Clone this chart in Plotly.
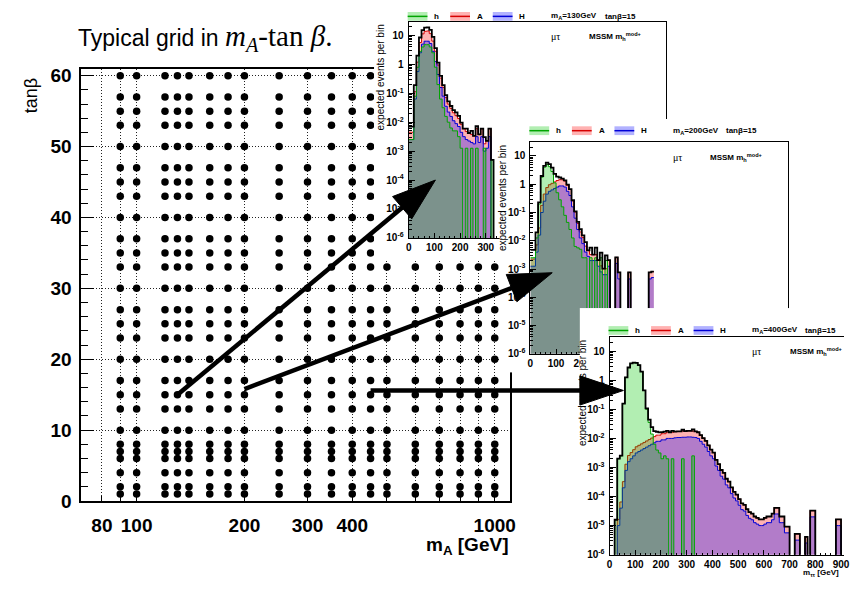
import math
import plotly.graph_objects as go

W, H = 850, 590

# ---------------- main grid data ----------------
mA_grid = [90, 100, 120, 130, 140, 160, 180, 200, 250, 300, 350, 400, 450, 500, 600, 700, 800, 900, 1000]
tanb_grid = [1, 2, 4, 6, 7, 8, 10, 13, 15, 17, 20, 23, 25, 27, 30, 33, 35, 37, 40, 43, 45, 47, 50, 53, 55, 57, 60]
x_tick_vals = [80, 100, 200, 300, 400, 1000]
x_tick_text = ["80", "100", "200", "300", "400", "1000"]
x_minor_vals = [90, 500, 600, 700, 800, 900]
y_tick_vals = [0, 10, 20, 30, 40, 50, 60]

# ---------------- inset histogram data (log10 of expected events per 10 GeV bin) ----------------
EMPTY = -9  # empty bin
BIN = 10
hist_x_ticks = [0, 100, 200, 300, 400, 500, 600, 700, 800, 900, 1000]
hist_y_ticks = [1e-6, 1e-5, 1e-4, 1e-3, 1e-2, 1e-1, 1, 10]
hist_y_text = ["10<sup>-6</sup>", "10<sup>-5</sup>", "10<sup>-4</sup>", "10<sup>-3</sup>",
               "10<sup>-2</sup>", "10<sup>-1</sup>", "1", "10"]

# m_A = 130 GeV
h_130 = [-2.6, -2.6, -1.1, -0.1, 0.45, 0.6, 0.68, 0.68, 0.6, 0.4,
         -0.1, -0.7, -1.2, -1.5, -1.8, -2.0, -2.2, -2.3, -2.3, -2.5,
         -2.9, EMPTY, -2.9, EMPTY, -2.9, EMPTY, -2.9, EMPTY, EMPTY, -2.9,
         EMPTY, EMPTY, -3.3, EMPTY, EMPTY]
H_130 = [-2.6, -2.6, -1.2, -0.25, 0.4, 0.7, 0.8, 0.8, 0.72, 0.45,
         0.1, -0.35, -0.8, -1.1, -1.45, -1.65, -1.8, -1.95, -2.05, -2.15,
         -2.35, -2.5, -2.6, -2.65, -2.7, -2.75, -2.5, -2.7, -2.5, -3.0,
         -2.9, -2.5, EMPTY, EMPTY, EMPTY]
A_130 = [-2.7, -2.7, -1.3, -0.2, 0.5, 0.8, 0.88, 0.9, 0.8, 0.55,
         0.2, -0.3, -0.75, -1.1, -1.45, -1.7, -1.85, -2.0, -2.1, -2.2,
         -2.4, -2.55, -2.65, -2.7, -2.75, -2.8, -2.55, -2.75, -2.55, -3.1,
         -3.0, -2.55, EMPTY, EMPTY, EMPTY]

# m_A = 200 GeV
h_200 = [-2.6, -2.6, -1.9, -0.7, 0.25, 0.6, 0.7, 0.62, 0.45, 0.05,
         -0.3, -0.55, -0.8, -1.1, -1.35, -1.6, -1.9, -2.2, -2.25, -2.3,
         -2.6, -2.6, EMPTY, -2.6, EMPTY, -2.6, EMPTY, -2.6, EMPTY, -2.7,
         EMPTY, EMPTY, EMPTY, EMPTY, EMPTY, EMPTY, EMPTY, EMPTY, EMPTY, EMPTY,
         EMPTY, EMPTY, EMPTY, EMPTY, EMPTY, EMPTY, EMPTY, EMPTY]
H_200 = [-2.9, -2.9, -2.4, -1.8, -1.0, -0.6, -0.35, -0.25, -0.2, -0.15,
         -0.1, -0.06, -0.06, -0.1, -0.25, -0.4, -0.8, -1.2, -1.6, -1.9,
         -2.1, -2.4, -2.55, -2.7, -2.7, -2.7, -2.9, -3.1, -3.2, -3.2,
         -2.9, EMPTY, EMPTY, -2.8, -3.35, EMPTY, EMPTY, EMPTY, -3.35, EMPTY,
         EMPTY, EMPTY, EMPTY, EMPTY, EMPTY, EMPTY, -3.35, -3.3]
A_200 = [-3.0, -3.0, -2.5, -1.9, -1.1, -0.7, -0.5, -0.4, -0.35, -0.3,
         -0.25, -0.24, -0.25, -0.3, -0.45, -0.6, -1.0, -1.4, -1.8, -2.1,
         -2.3, -2.6, -2.75, -2.9, -2.9, -2.9, -3.1, -3.3, -3.4, -3.4,
         -3.1, EMPTY, EMPTY, -3.0, -3.5, EMPTY, EMPTY, EMPTY, -3.5, EMPTY,
         EMPTY, EMPTY, EMPTY, EMPTY, EMPTY, EMPTY, -3.5, -3.5]

# m_A = 400 GeV
h_400 = [EMPTY, EMPTY, -4.8, -2.7, -2.6, -0.8, 0.1, 0.44, 0.58, 0.61,
         0.6, 0.52, 0.3, -0.35, -1.0, -1.45, -1.85, -2.2, -2.4, -2.5,
         -2.7, -2.6, -2.7, EMPTY, -2.7, EMPTY, EMPTY, EMPTY, -2.7, EMPTY,
         EMPTY, EMPTY, -2.6, EMPTY, EMPTY, EMPTY, EMPTY, EMPTY, EMPTY, EMPTY,
         EMPTY, EMPTY, EMPTY, EMPTY, EMPTY, EMPTY, EMPTY, EMPTY, EMPTY, EMPTY,
         EMPTY, EMPTY, EMPTY, EMPTY, EMPTY, EMPTY, EMPTY, EMPTY, EMPTY, EMPTY,
         EMPTY, EMPTY, EMPTY, EMPTY, EMPTY, EMPTY, EMPTY, EMPTY, EMPTY, EMPTY,
         EMPTY, EMPTY, EMPTY, EMPTY, EMPTY, EMPTY, EMPTY, EMPTY, EMPTY, EMPTY,
         EMPTY, EMPTY, EMPTY, EMPTY, EMPTY, EMPTY, EMPTY, EMPTY, EMPTY, EMPTY,
         EMPTY, EMPTY]
H_400 = [EMPTY, EMPTY, EMPTY, -5.0, -4.4, -3.7, -3.1, -2.8, -2.7, -2.6,
         -2.5, -2.45, -2.4, -2.35, -2.3, -2.25, -2.2, -2.15, -2.1, -2.1,
         -2.05, -2.05, -2.0, -2.0, -2.0, -1.98, -1.97, -1.97, -1.96, -1.96,
         -1.95, -1.95, -1.96, -1.97, -2.0, -2.1, -2.2, -2.3, -2.45, -2.6,
         -2.7, -2.95, -3.1, -3.3, -3.4, -3.6, -3.7, -3.9, -4.05, -4.15,
         -4.3, -4.45, -4.5, -4.65, -4.75, -4.8, -4.9, -4.95, -5.0, -5.0,
         -4.95, -4.9, -4.9, -4.8, -4.6, -4.6, -4.9, -4.9, -5.25, -5.25,
         EMPTY, EMPTY, -5.5, -5.5, EMPTY, EMPTY, -5.6, EMPTY, -4.7, -4.7,
         EMPTY, EMPTY, EMPTY, EMPTY, EMPTY, EMPTY, EMPTY, EMPTY, -5.0, -5.0,
         EMPTY, EMPTY]
A_400 = [EMPTY, EMPTY, EMPTY, -5.2, -4.6, -3.9, -3.3, -3.0, -2.9, -2.8,
         -2.7, -2.65, -2.6, -2.55, -2.5, -2.45, -2.4, -2.35, -2.3, -2.3,
         -2.25, -2.25, -2.2, -2.2, -2.2, -2.18, -2.17, -2.17, -2.16, -2.16,
         -2.15, -2.15, -2.16, -2.17, -2.2, -2.3, -2.4, -2.5, -2.65, -2.8,
         -2.9, -3.15, -3.3, -3.5, -3.6, -3.8, -3.9, -4.1, -4.25, -4.35,
         -4.5, -4.65, -4.7, -4.85, -4.95, -5.0, -5.1, -5.15, -5.2, -5.2,
         -5.15, -5.1, -5.1, -5.0, -4.8, -4.8, -5.1, -5.1, -5.45, -5.45,
         EMPTY, EMPTY, -5.7, -5.7, EMPTY, EMPTY, -5.8, EMPTY, -4.9, -4.9,
         EMPTY, EMPTY, EMPTY, EMPTY, EMPTY, EMPTY, EMPTY, EMPTY, -5.2, -5.2,
         EMPTY, EMPTY]

inset_labels = ["130", "200", "400"]
arrow_starts = [(130, 15.0), (200, 15.8), (450, 15.6)]     # (m_A, tan beta)
arrow_tips = [(104, 1e-4), (85, 10 ** -3.13), (54, 10 ** -0.35)]  # (m_tautau, events) in each inset

# ---------------- geometry (pixels) ----------------
MAIN = (79, 67, 512, 510)  # x0, y0(top), x1, y1(bottom)
MAIN_XR = (math.log10(70), math.log10(1100))
MAIN_YR = (0, 60.9)
INSETS = [
    dict(frame=(410, 18, 670, 240), canvas=(375, 0, 730, 262), label_max=300),
    dict(frame=(533, 142, 793, 359), canvas=(502, 118, 800, 378), label_max=200),
    dict(frame=(613, 342, 873, 565), canvas=(583, 312, 850, 590), label_max=900),
]
HIST_YR = (-6, 1.48)

GREEN_FILL, GREEN_LINE = "rgba(0,200,0,0.3)", "rgb(0,165,0)"
RED_FILL, RED_LINE = "rgba(255,0,0,0.3)", "rgb(215,0,0)"
BLUE_FILL, BLUE_LINE = "rgba(0,0,255,0.3)", "rgb(0,0,215)"


def px(xp):
    return xp / W


def py(yp):
    return 1 - yp / H


def dom_x(x0, x1):
    return [max(0, px(x0)), min(1, px(x1))]


def dom_y(y0, y1):
    return [max(0, py(y1)), min(1, py(y0))]


fig = go.Figure()

# main scatter
gx, gy = [], []
for t in tanb_grid:
    for m in mA_grid:
        gx.append(m)
        gy.append(t)
fig.add_trace(go.Scatter(x=gx, y=gy, mode="markers", marker=dict(size=7.5, color="black"),
                         xaxis="x", yaxis="y", showlegend=False, hoverinfo="skip"))

layout_axes = {}
LABEL_FONT = dict(family="Liberation Sans", size=19, color="black", weight="bold")
GRID = dict(showgrid=True, gridcolor="#222", griddash="1px,2px", gridwidth=1)
layout_axes["xaxis"] = dict(
    domain=dom_x(MAIN[0], MAIN[2]), anchor="y", type="log", range=list(MAIN_XR),
    tickmode="array", tickvals=x_tick_vals, ticktext=x_tick_text, ticks="inside", ticklen=5,
    tickcolor="black", tickfont=LABEL_FONT, ticklabelstandoff=6,
    minor=dict(tickmode="array", tickvals=x_minor_vals, ticks="inside", ticklen=5,
               tickcolor="black", **GRID),
    **GRID,
    showline=True, linecolor="black", linewidth=1.5, mirror=True, zeroline=False)
layout_axes["yaxis"] = dict(
    domain=dom_y(MAIN[1], MAIN[3]), anchor="x", range=list(MAIN_YR),
    tickmode="array", tickvals=y_tick_vals, ticks="inside", ticklen=13, tickcolor="black",
    tickfont=LABEL_FONT, ticklabelstandoff=4,
    minor=dict(tickmode="linear", tick0=0, dtick=2, ticks="inside", ticklen=7,
               tickcolor="black", showgrid=False),
    **GRID,
    showline=True, linecolor="black", linewidth=1.5, mirror=True, zeroline=False)

series = [(h_130, H_130, A_130), (h_200, H_200, A_200), (h_400, H_400, A_400)]
HIST_FONT = dict(family="Liberation Sans", size=10, color="black", weight="bold")

for k, ins in enumerate(INSETS):
    cidx = 2 + 2 * k
    iidx = cidx + 1
    cx0, cy0, cx1, cy1 = ins["canvas"]
    fx0, fy0, fx1, fy1 = ins["frame"]
    # white canvas subplot (hides what lies beneath the inset)
    fig.add_trace(go.Scatter(x=[], y=[], xaxis=f"x{cidx}", yaxis=f"y{cidx}",
                             showlegend=False, hoverinfo="skip"))
    blank = dict(showgrid=False, zeroline=False, showticklabels=False, ticks="",
                 showline=False, range=[0, 1], fixedrange=True)
    layout_axes[f"xaxis{cidx}"] = dict(domain=dom_x(cx0, cx1), anchor=f"y{cidx}", **blank)
    layout_axes[f"yaxis{cidx}"] = dict(domain=dom_y(cy0, cy1), anchor=f"x{cidx}", **blank)

    # histograms
    h_l, H_l, A_l = series[k]
    hv = [10 ** v for v in h_l]
    Hv = [10 ** v for v in H_l]
    Av = [10 ** v for v in A_l]
    HA = [a + b for a, b in zip(Hv, Av)]
    tot = [a + b for a, b in zip(hv, HA)]
    edges = [BIN * i for i in range(len(hv) + 1)]

    def step(v):
        return v + [v[-1]]

    xa, ya = f"x{iidx}", f"y{iidx}"
    fig.add_trace(go.Scatter(x=edges, y=step(HA), mode="lines", line=dict(color=RED_LINE, width=1, shape="hv"),
                             fill="tozeroy", fillcolor=RED_FILL, xaxis=xa, yaxis=ya,
                             showlegend=False, hoverinfo="skip"))
    fig.add_trace(go.Scatter(x=edges, y=step(Hv), mode="lines", line=dict(color=BLUE_LINE, width=1, shape="hv"),
                             fill="tozeroy", fillcolor=BLUE_FILL, xaxis=xa, yaxis=ya,
                             showlegend=False, hoverinfo="skip"))
    fig.add_trace(go.Scatter(x=edges, y=step(hv), mode="lines", line=dict(color=GREEN_LINE, width=1, shape="hv"),
                             fill="tozeroy", fillcolor=GREEN_FILL, xaxis=xa, yaxis=ya,
                             showlegend=False, hoverinfo="skip"))
    fig.add_trace(go.Scatter(x=edges, y=step(tot), mode="lines", line=dict(color="black", width=1.8, shape="hv"),
                             xaxis=xa, yaxis=ya, showlegend=False, hoverinfo="skip"))

    xmax = 1000 * (min(fx1, W) - fx0) / (fx1 - fx0)
    layout_axes[f"xaxis{iidx}"] = dict(
        domain=dom_x(fx0, fx1), anchor=ya, range=[0, xmax], tickmode="array",
        tickvals=[t for t in hist_x_ticks if t <= ins["label_max"]], ticks="inside", ticklen=5,
        tickcolor="black", tickfont=HIST_FONT, ticklabelstandoff=0,
        minor=dict(tickmode="linear", tick0=0, dtick=20, ticks="inside", ticklen=2, tickcolor="black"),
        showgrid=False, zeroline=False, showline=True, linecolor="black", linewidth=1, mirror=True)
    layout_axes[f"yaxis{iidx}"] = dict(
        domain=dom_y(fy0, fy1), anchor=xa, type="log", range=list(HIST_YR), tickmode="array",
        tickvals=hist_y_ticks, ticktext=hist_y_text, ticks="inside", ticklen=6, tickcolor="black",
        tickfont=HIST_FONT, ticklabelstandoff=2,
        minor=dict(ticks="inside", ticklen=3, tickcolor="black", dtick="D1"),
        showgrid=False, zeroline=False, showline=True, linecolor="black", linewidth=1,
        mirror=(fx1 <= W))

fig.update_layout(**layout_axes)

# ---------------- annotations ----------------
ann = []
ann.append(dict(x=px(74), y=py(35), xref="paper", yref="paper", xanchor="left", yanchor="middle",
                showarrow=False, font=dict(family="Liberation Sans", size=23, color="black"),
                text="Typical grid in <span style='font-family:Liberation Serif;font-size:29px'>"
                     "<i>m</i><sub><i>A</i></sub>-tan <i>β</i>.</span>"))
ann.append(dict(x=px(28), y=py(74), xref="paper", yref="paper", xanchor="center", yanchor="top",
                textangle=-90, showarrow=False, text="tanβ",
                font=dict(family="Liberation Sans", size=18, color="black")))
ann.append(dict(x=px(512), y=py(556), xref="paper", yref="paper", xanchor="right", yanchor="middle",
                showarrow=False, text="<b>m<sub>A</sub> [GeV]</b>",
                font=dict(family="Liberation Sans", size=19, color="black")))

shapes = []
SMALL = dict(family="Liberation Sans", size=8, color="black")
legend_rows = [12.7, 130, 335]
legend_entries = [("h", GREEN_FILL, GREEN_LINE), ("A", RED_FILL, RED_LINE), ("H", BLUE_FILL, BLUE_LINE)]
for k, ins in enumerate(INSETS):
    fx0, fy0, fx1, fy1 = ins["frame"]
    ly = legend_rows[k]
    for j, (lab, fc, lc) in enumerate(legend_entries):
        bx = fx0 - 1 + 43 * j
        shapes.append(dict(type="rect", xref="paper", yref="paper", x0=px(bx), x1=px(bx + 20),
                           y0=py(ly + 4.5), y1=py(ly - 4.5), fillcolor=fc, line=dict(width=0), layer="above"))
        shapes.append(dict(type="line", xref="paper", yref="paper", x0=px(bx), x1=px(bx + 20),
                           y0=py(ly), y1=py(ly), line=dict(color=lc, width=1.5), layer="above"))
        ann.append(dict(x=px(bx + 25), y=py(ly), xref="paper", yref="paper", xanchor="left",
                        yanchor="middle", showarrow=False, text=f"<b>{lab}</b>", font=SMALL))
    ann.append(dict(x=px(fx0 + 142), y=py(ly), xref="paper", yref="paper", xanchor="left", yanchor="middle",
                    showarrow=False, text=f"<b>m<sub>A</sub>={inset_labels[k]}GeV</b>", font=SMALL))
    ann.append(dict(x=px(fx0 + 196), y=py(ly), xref="paper", yref="paper", xanchor="left", yanchor="middle",
                    showarrow=False, text="<b>tanβ=15</b>", font=SMALL))
    ann.append(dict(x=px(fx0 + 142), y=py(fy0 + 15), xref="paper", yref="paper", xanchor="left",
                    yanchor="middle", showarrow=False, text="μτ",
                    font=dict(family="Liberation Serif", size=10, color="black")))
    ann.append(dict(x=px(fx0 + 180), y=py(fy0 + 15), xref="paper", yref="paper", xanchor="left",
                    yanchor="middle", showarrow=False, text="<b>MSSM m<sub>h</sub><sup>mod+</sup></b>",
                    font=SMALL))
    ann.append(dict(x=px(fx0 - 28), y=py(fy0 + 1), xref="paper", yref="paper", xanchor="center",
                    yanchor="top", textangle=-90, showarrow=False, text="expected events per bin",
                    font=dict(family="Liberation Sans", size=10, color="black")))

ann.append(dict(x=px(846), y=py(590), xref="paper", yref="paper", xanchor="right", yanchor="bottom",
                showarrow=False, text="<b>m<sub>ττ</sub> [GeV]</b>", borderpad=0,
                font=dict(family="Liberation Sans", size=8)))


# ---------------- arrows ----------------
def main_to_px(m, t):
    x = MAIN[0] + (math.log10(m) - MAIN_XR[0]) / (MAIN_XR[1] - MAIN_XR[0]) * (MAIN[2] - MAIN[0])
    y = MAIN[3] - (t - MAIN_YR[0]) / (MAIN_YR[1] - MAIN_YR[0]) * (MAIN[3] - MAIN[1])
    return x, y


def inset_to_px(ins, gev, val):
    fx0, fy0, fx1, fy1 = ins["frame"]
    x = fx0 + gev / 1000 * (fx1 - fx0)
    y = fy1 - (math.log10(val) - HIST_YR[0]) / (HIST_YR[1] - HIST_YR[0]) * (fy1 - fy0)
    return x, y


HEAD_L, HEAD_HW = 44, 15
for k in range(3):
    sx, sy = main_to_px(*arrow_starts[k])
    tx, ty = inset_to_px(INSETS[k], *arrow_tips[k])
    dx, dy = tx - sx, ty - sy
    n = math.hypot(dx, dy)
    ux, uy = dx / n, dy / n
    bx, by = tx - HEAD_L * ux, ty - HEAD_L * uy
    pxp, pyp = -uy, ux
    shapes.append(dict(type="line", xref="paper", yref="paper", x0=px(sx), y0=py(sy),
                       x1=px(bx + 3 * ux), y1=py(by + 3 * uy),
                       line=dict(color="black", width=4.5), layer="above"))
    path = (f"M {px(tx)},{py(ty)} L {px(bx + HEAD_HW * pxp)},{py(by + HEAD_HW * pyp)} "
            f"L {px(bx - HEAD_HW * pxp)},{py(by - HEAD_HW * pyp)} Z")
    shapes.append(dict(type="path", xref="paper", yref="paper", path=path, fillcolor="black",
                       line=dict(color="black", width=1), layer="above"))

fig.update_layout(
    width=W, height=H, margin=dict(l=0, r=0, t=0, b=0),
    paper_bgcolor="white", plot_bgcolor="white",
    showlegend=False, annotations=ann, shapes=shapes,
    font=dict(family="Liberation Sans", color="black"),
)

fig.write_html("out.html")
